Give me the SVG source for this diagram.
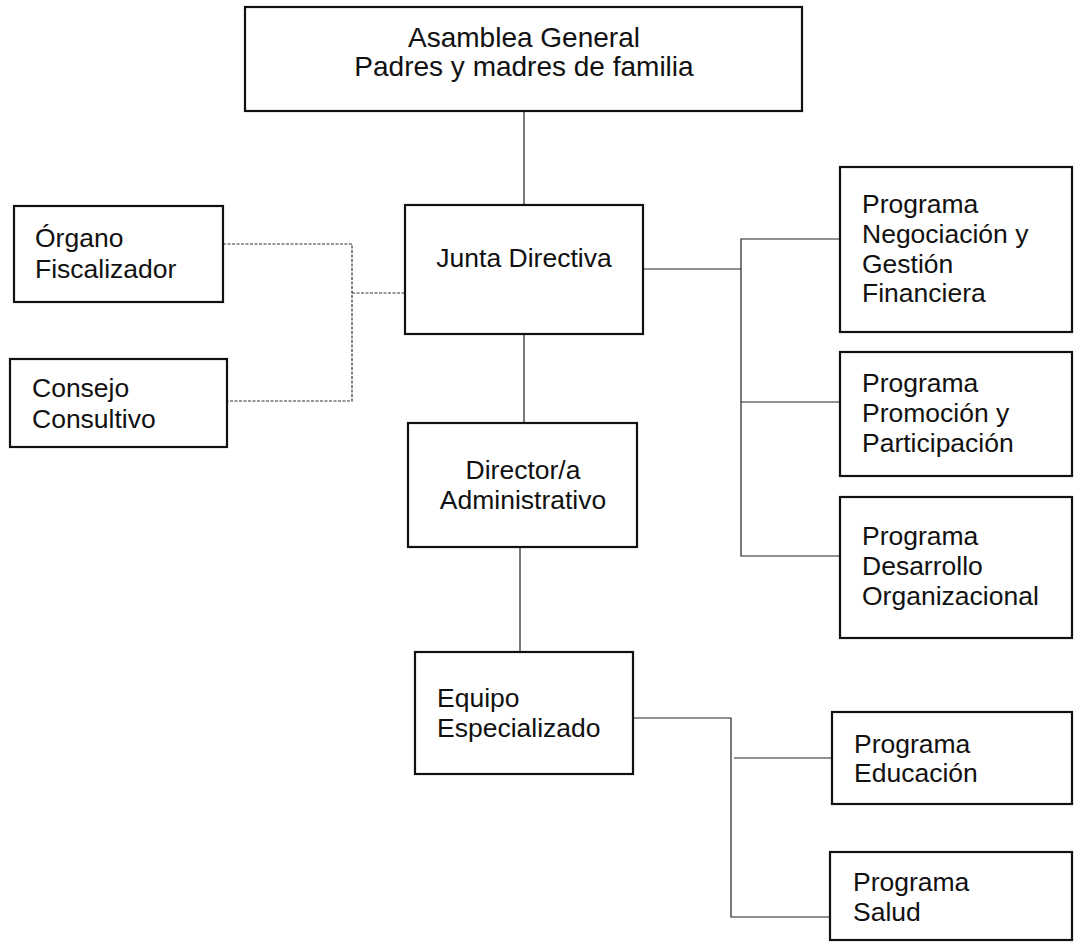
<svg xmlns="http://www.w3.org/2000/svg" width="1074" height="942" viewBox="0 0 1074 942">
<style>
.box{fill:#fff;stroke:#111;stroke-width:2.2}
.t{font-family:"Liberation Sans",Arial,sans-serif;font-size:26.5px;fill:#111}
.tc{text-anchor:middle}
.ln{stroke:#222;stroke-width:1.2;fill:none}
.dl{stroke:#333;stroke-width:1.2;fill:none;stroke-dasharray:3 1.5}
</style>
<rect width="1074" height="942" fill="#fff"/>
<g id="connectors">
<line class="ln" x1="524" y1="111" x2="524" y2="205"/>
<line class="ln" x1="524" y1="334" x2="524" y2="423"/>
<line class="ln" x1="520" y1="547" x2="520" y2="652"/>
<polyline class="ln" points="643,269 741,269"/>
<polyline class="ln" points="840,239 741,239 741,556 840,556"/>
<line class="ln" x1="741" y1="402" x2="840" y2="402"/>
<polyline class="ln" points="633,718 731,718 731,917 830,917"/>
<line class="ln" x1="734" y1="758" x2="832" y2="758"/>
<polyline class="dl" points="223,244 352,244 352,401 227,401"/>
<line class="dl" x1="352" y1="293" x2="405" y2="293"/>
</g>
<g id="asamblea">
<rect class="box" x="245" y="7" width="557" height="104"/>
<text class="t tc" x="524" y="47" style="font-size:28px">Asamblea General</text>
<text class="t tc" x="524" y="76" style="font-size:28px">Padres y madres de familia</text>
</g>
<g id="junta">
<rect class="box" x="405" y="205" width="238" height="129"/>
<text class="t tc" x="524" y="267">Junta Directiva</text>
</g>
<g id="organo">
<rect class="box" x="14" y="206" width="209" height="96"/>
<text class="t" x="35" y="247">Órgano</text>
<text class="t" x="35" y="278">Fiscalizador</text>
</g>
<g id="consejo">
<rect class="box" x="10" y="359" width="217" height="88"/>
<text class="t" x="32" y="397">Consejo</text>
<text class="t" x="32" y="428">Consultivo</text>
</g>
<g id="director">
<rect class="box" x="408" y="423" width="229" height="124"/>
<text class="t tc" x="523" y="479">Director/a</text>
<text class="t tc" x="523" y="509">Administrativo</text>
</g>
<g id="equipo">
<rect class="box" x="415" y="652" width="218" height="122"/>
<text class="t" x="437" y="707">Equipo</text>
<text class="t" x="437" y="737">Especializado</text>
</g>
<g id="negociacion">
<rect class="box" x="840" y="167" width="232" height="165"/>
<text class="t" x="862" y="213">Programa</text>
<text class="t" x="862" y="243">Negociación y</text>
<text class="t" x="862" y="273">Gestión</text>
<text class="t" x="862" y="302">Financiera</text>
</g>
<g id="promocion">
<rect class="box" x="840" y="352" width="232" height="124"/>
<text class="t" x="862" y="392">Programa</text>
<text class="t" x="862" y="422">Promoción y</text>
<text class="t" x="862" y="452">Participación</text>
</g>
<g id="desarrollo">
<rect class="box" x="840" y="497" width="232" height="141"/>
<text class="t" x="862" y="545">Programa</text>
<text class="t" x="862" y="575">Desarrollo</text>
<text class="t" x="862" y="605">Organizacional</text>
</g>
<g id="educacion">
<rect class="box" x="832" y="712" width="240" height="92"/>
<text class="t" x="854" y="753">Programa</text>
<text class="t" x="854" y="782">Educación</text>
</g>
<g id="salud">
<rect class="box" x="830" y="852" width="242" height="88"/>
<text class="t" x="853" y="891">Programa</text>
<text class="t" x="853" y="921">Salud</text>
</g>
</svg>
